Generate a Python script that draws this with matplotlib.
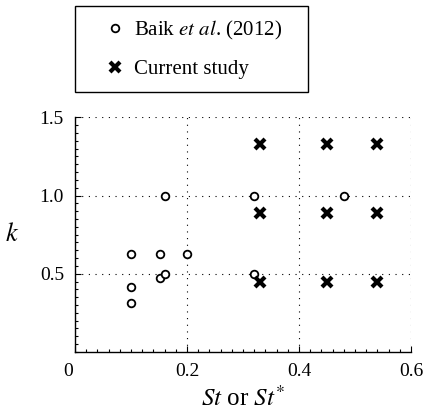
import matplotlib
matplotlib.use("Agg")
import matplotlib.pyplot as plt
import matplotlib.transforms as mtransforms
from matplotlib.ticker import MultipleLocator, FixedLocator

plt.rcParams['font.family'] = ['Liberation Serif', 'DejaVu Serif']
plt.rcParams['mathtext.fontset'] = 'stix'
plt.rcParams['font.size'] = 14

# Baik et al. (2012)
baik_st = [0.100, 0.100, 0.100, 0.151, 0.151, 0.161, 0.161, 0.200, 0.319, 0.319, 0.480]
baik_k = [0.627, 0.417, 0.315, 0.627, 0.470, 0.500, 1.000, 0.627, 1.000, 0.500, 1.000]

# current study
cur_st = [0.331, 0.331, 0.331, 0.450, 0.450, 0.450, 0.540, 0.540, 0.540]
cur_k = [1.328, 0.889, 0.449, 1.328, 0.889, 0.449, 1.328, 0.889, 0.449]

x_ticks = [0, 0.2, 0.4, 0.6]
x_labels = ['0', '0.2', '0.4', '0.6']
y_ticks = [0.5, 1.0, 1.5]
y_labels = ['0.5', '1.0', '1.5']

fig = plt.figure(figsize=(4.25, 4.16), dpi=100)
ax = fig.add_axes([0.1765, 0.154, 0.7905, 0.564])

ax.plot(baik_st, baik_k, 'o', ls='none', ms=5.5, mfc='white', mec='black',
        mew=1.3, label=r'Baik $\mathit{et\ al}$. (2012)', zorder=3)
ax.plot(cur_st, cur_k, 'x', ls='none', ms=7.5, mec='black', mew=3.0,
        label='Current study', zorder=3)

ax.set_xlim(0, 0.6)
ax.set_ylim(0, 1.5)
ax.xaxis.set_major_locator(FixedLocator(x_ticks))
ax.set_xticklabels(x_labels)
ax.yaxis.set_major_locator(FixedLocator(y_ticks))
ax.set_yticklabels(y_labels)
ax.xaxis.set_minor_locator(MultipleLocator(0.02))
ax.yaxis.set_minor_locator(MultipleLocator(0.05))
ax.tick_params(which='both', direction='in', top=False, right=False, width=0.8)
ax.tick_params(which='major', length=4, pad=8)
ax.tick_params(which='minor', length=2)

# nudge the "0" label left as in the original
lbl0 = ax.get_xticklabels()[0]
lbl0.set_transform(lbl0.get_transform() +
                   mtransforms.ScaledTranslation(-0.07, 0, fig.dpi_scale_trans))

for side in ('top', 'right'):
    ax.spines[side].set_visible(False)
for side in ('left', 'bottom'):
    ax.spines[side].set_linewidth(1.0)

ax.grid(True, which='major', color='black', linestyle=(0, (1, 5)), linewidth=0.8)

ax.set_xlabel(r'$\mathit{St}$ or $\mathit{St}^{*}$', fontsize=18, labelpad=4)
ax.set_ylabel(r'$\mathit{k}$', fontsize=19, rotation=0, labelpad=20, va='center')

leg = fig.legend(loc='upper left', bbox_to_anchor=(0.1765, 0.791, 0.548, 0.1946),
                 mode='expand', fancybox=False, edgecolor='black', framealpha=1,
                 borderpad=0.6, labelspacing=0.88, handlelength=2.6,
                 handletextpad=-0.35, fontsize=15, borderaxespad=0)
leg.get_frame().set_linewidth(1.0)

fig.savefig('out.png', dpi=100)
